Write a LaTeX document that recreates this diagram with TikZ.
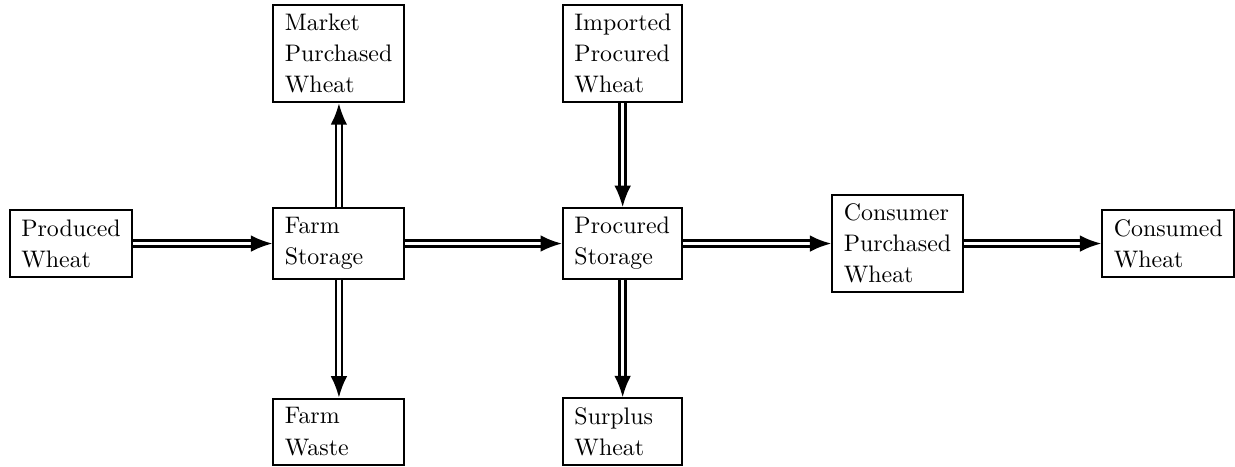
\documentclass[tikz,border=0pt]{standalone}
\usetikzlibrary{arrows.meta}

\begin{document}
\begin{tikzpicture}[
	every node/.style={black},
	box/.style={draw, thick, align=left, inner xsep=4.8pt, inner ysep=3.8pt, font=\fontsize{10}{13}\selectfont},
	flow/.style={double, double distance=1.4pt, line width=1.1pt, -{Latex[length=9pt,width=7pt]}}]
\useasboundingbox (0pt,0pt) rectangle (516.7pt,195pt);
%	centres of the boxes, rows: top, middle, bottom
\coordinate (c1) at ( 29.7pt, 93.1pt);
\coordinate (c2) at (141.8pt, 93.1pt);
\coordinate (c3) at (260.5pt, 93.1pt);
\coordinate (c4) at (375.5pt, 93.1pt);
\coordinate (c5) at (488.8pt, 93.1pt);
\coordinate (t2) at (141.8pt,172.6pt);
\coordinate (t3) at (260.5pt,172.6pt);
\coordinate (b2) at (141.8pt, 14.4pt);
\coordinate (b3) at (260.5pt, 14.4pt);

\node[box] (pw)  at (c1) {Produced\\Wheat};
\node[box, text width=45.2pt] (fs)  at (c2) {Farm\\Storage};
\node[box, text width=40.3pt] (ps)  at (c3) {Procured\\Storage};
\node[box] (cpw) at (c4) {Consumer\\Purchased\\Wheat};
\node[box] (cw)  at (c5) {Consumed\\Wheat};
\node[box, text width=45.2pt] (mpw) at (t2) {Market\\Purchased\\Wheat};
\node[box, text width=40.3pt] (ipw) at (t3) {Imported\\Procured\\Wheat};
\node[box, text width=45.2pt] (fw)  at (b2) {Farm\\Waste};
\node[box, text width=40.3pt] (sw)  at (b3) {Surplus\\Wheat};

\draw[flow] (pw)  -- (fs);
\draw[flow] (fs)  -- (ps);
\draw[flow] (ps)  -- (cpw);
\draw[flow] (cpw) -- (cw);
\draw[flow] (fs)  -- (mpw);
\draw[flow] (fs)  -- (fw);
\draw[flow] (ipw) -- (ps);
\draw[flow] (ps)  -- (sw);

\end{tikzpicture}
\end{document}
